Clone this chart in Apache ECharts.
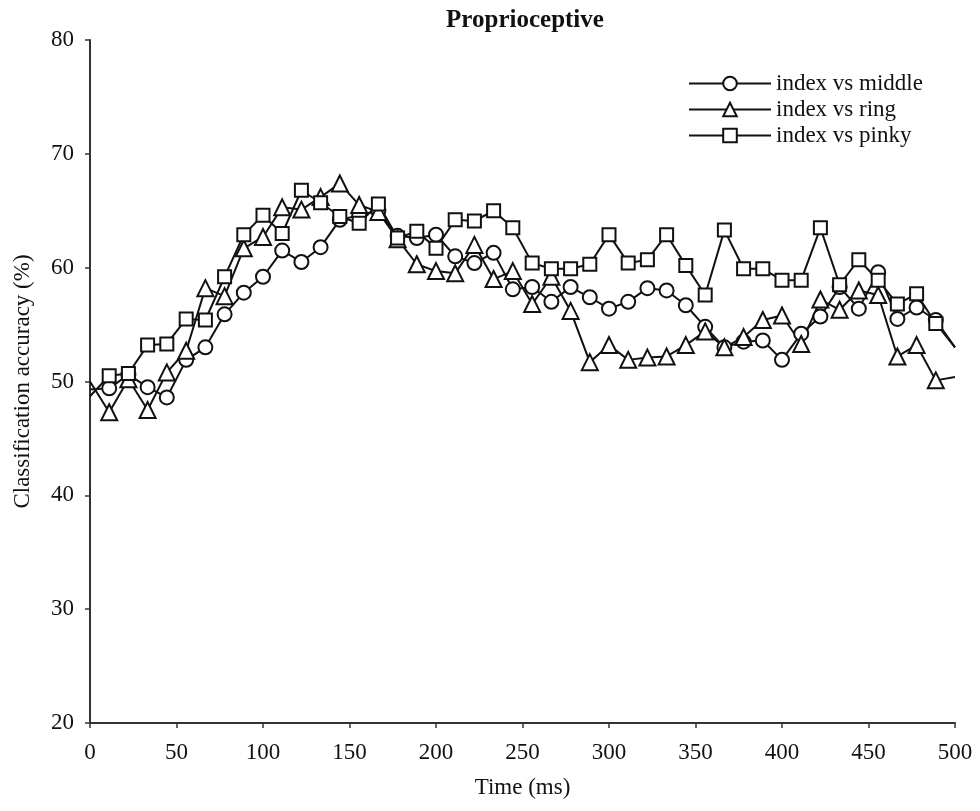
<!DOCTYPE html>
<html>
<head>
<meta charset="utf-8">
<script src="https://cdn.jsdelivr.net/npm/echarts@6/dist/echarts.min.js"></script>
<style>
html,body{margin:0;padding:0;background:#fff;}
#chart{width:980px;height:811px;}
</style>
</head>
<body>
<div id="chart"></div>
<script>
const times = [0, 11.1, 22.2, 33.3, 44.4, 55.6, 66.7, 77.8, 88.9, 100,
  111.1, 122.2, 133.3, 144.4, 155.6, 166.7, 177.8, 188.9, 200, 211.1,
  222.2, 233.3, 244.4, 255.6, 266.7, 277.8, 288.9, 300, 311.1, 322.2,
  333.3, 344.4, 355.6, 366.7, 377.8, 388.9, 400, 411.1, 422.2, 433.3,
  444.4, 455.6, 466.7, 477.8, 488.9, 500];

const indexVsMiddle = [49.3, 49.4, 50.6, 49.5, 48.6, 51.9, 53.0, 55.9, 57.8, 59.2,
  61.5, 60.5, 61.8, 64.2, 64.6, 65.0, 62.8, 62.6, 62.9, 61.0,
  60.4, 61.3, 58.1, 58.3, 57.0, 58.3, 57.4, 56.4, 57.0, 58.2,
  58.0, 56.7, 54.8, 53.0, 53.5, 53.6, 51.9, 54.2, 55.7, 58.3,
  56.4, 59.6, 55.5, 56.5, 55.4, 53.0];

const indexVsRing = [50.0, 47.3, 50.2, 47.5, 50.8, 52.7, 58.2, 57.5, 61.7, 62.7,
  65.3, 65.1, 66.2, 67.4, 65.5, 64.9, 62.5, 60.3, 59.7, 59.5,
  62.0, 59.0, 59.7, 56.8, 59.2, 56.2, 51.7, 53.2, 51.9, 52.1,
  52.2, 53.2, 54.4, 53.0, 53.9, 55.4, 55.8, 53.3, 57.2, 56.3,
  58.0, 57.6, 52.2, 53.2, 50.1, 50.4];

const indexVsPinky = [48.7, 50.5, 50.7, 53.2, 53.3, 55.5, 55.4, 59.2, 62.9, 64.6,
  63.0, 66.8, 65.7, 64.5, 63.9, 65.6, 62.6, 63.2, 61.7, 64.2,
  64.1, 65.0, 63.5, 60.4, 59.9, 59.9, 60.3, 62.9, 60.4, 60.7,
  62.9, 60.2, 57.6, 63.3, 59.9, 59.9, 58.9, 58.9, 63.5, 58.5,
  60.7, 58.9, 56.8, 57.7, 55.1, 53.0];

const seriesNames = ['index vs middle', 'index vs ring', 'index vs pinky'];
const yTicks = [20, 30, 40, 50, 60, 70, 80];
const xTicks = [0, 50, 100, 150, 200, 250, 300, 350, 400, 450, 500];

const FONT = '"Liberation Serif", "DejaVu Serif", serif';

function buildData(vals) {
  return vals.map((v, i) => {
    const item = { value: [times[i], v] };
    if (i === 0 || i === vals.length - 1) item.symbol = 'none';
    return item;
  });
}

function lineSeries(name, vals, symbol, size) {
  return {
    name: name,
    type: 'line',
    data: buildData(vals),
    symbol: symbol,
    symbolSize: size,
    showAllSymbol: true,
    clip: true,
    lineStyle: { color: '#111', width: 2 },
    itemStyle: { color: '#fff', borderColor: '#111', borderWidth: 2 },
    emphasis: { disabled: true },
    z: 2
  };
}

const chart = echarts.init(document.getElementById('chart'), null, { renderer: 'canvas' });
chart.setOption({
  animation: false,
  backgroundColor: '#fff',
  title: {
    text: 'Proprioceptive',
    left: 520,
    textAlign: 'center',
    top: 3,
    textStyle: { fontFamily: FONT, fontSize: 25, fontWeight: 'bold', color: '#111' }
  },
  legend: {
    orient: 'vertical',
    left: 683,
    top: 67,
    itemWidth: 82,
    itemHeight: 17,
    itemGap: 3,
    data: seriesNames,
    textStyle: { fontFamily: FONT, fontSize: 23, color: '#111', padding: [0, 0, 0, 0] }
  },
  grid: { left: 90, right: 25, top: 40, bottom: 88, containLabel: false },
  xAxis: {
    type: 'value',
    min: xTicks[0],
    max: xTicks[xTicks.length - 1],
    interval: 50,
    name: 'Time (ms)',
    nameLocation: 'middle',
    nameGap: 53,
    nameTextStyle: { fontFamily: FONT, fontSize: 23, color: '#111' },
    axisLine: { show: true, lineStyle: { color: '#333', width: 2 } },
    axisTick: { show: true, inside: false, length: 5, lineStyle: { color: '#333', width: 1.5 } },
    axisLabel: { fontFamily: FONT, fontSize: 23, color: '#111', margin: 18 },
    splitLine: { show: false }
  },
  yAxis: {
    type: 'value',
    min: yTicks[0],
    max: yTicks[yTicks.length - 1],
    interval: 10,
    name: 'Classification accuracy (%)',
    nameLocation: 'middle',
    nameGap: 56,
    nameTextStyle: { fontFamily: FONT, fontSize: 23, color: '#111' },
    axisLine: { show: true, lineStyle: { color: '#333', width: 2 } },
    axisTick: { show: true, inside: false, length: 5, lineStyle: { color: '#333', width: 1.5 } },
    axisLabel: { fontFamily: FONT, fontSize: 23, color: '#111', margin: 16 },
    splitLine: { show: false }
  },
  series: [
    lineSeries(seriesNames[0], indexVsMiddle, 'circle', 14),
    lineSeries(seriesNames[1], indexVsRing, 'triangle', 16),
    lineSeries(seriesNames[2], indexVsPinky, 'rect', 13)
  ]
});
</script>
</body>
</html>
